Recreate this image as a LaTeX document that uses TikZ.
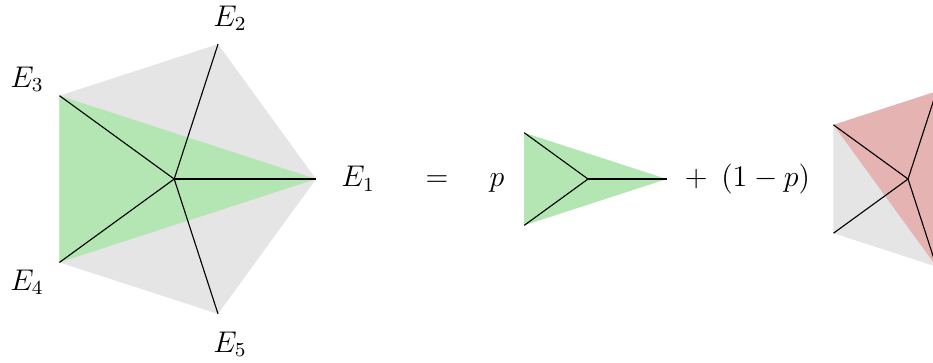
\documentclass[tikz,border=0pt]{standalone}
\definecolor{pgray}{RGB}{229,229,229}
\definecolor{pgreen}{RGB}{179,230,179}
\definecolor{pred}{RGB}{230,179,179}
\tikzset{
  lbl/.style={inner sep=0pt, anchor=base, font=\large},
  edge/.style={draw=black, line width=0.45pt}
}
\begin{document}
\begin{tikzpicture}
\useasboundingbox (-2.457,-2.581) rectangle (10.702,2.525);
\clip (-2.457,-2.581) rectangle (10.702,2.525);
% left pentagon
\begin{scope}
  \coordinate (A0) at (0,0);
  \foreach \i/\a in {1/0,2/72,3/144,4/216,5/288} \coordinate (A\i) at (\a:2);
  \fill[pgray] (A1)--(A2)--(A3)--(A4)--(A5)--cycle;
  \fill[pgreen] (A3)--(A4)--(A1)--cycle;
  \foreach \i in {1,...,5} \draw[edge] (A0)--(A\i);
\end{scope}
% middle triangle
\begin{scope}[shift={(5.836,0)}, scale=0.556]
  \coordinate (B0) at (0,0);
  \foreach \i/\a in {1/0,3/144,4/216} \coordinate (B\i) at (\a:2);
  \fill[pgreen] (B3)--(B4)--(B1)--cycle;
  \foreach \i in {1,3,4} \draw[edge] (B0)--(B\i);
\end{scope}
% right pentagon (cut off)
\begin{scope}[shift={(10.35,0)}, scale=0.65]
  \coordinate (C0) at (0,0);
  \foreach \i/\a in {1/0,2/72,3/144,4/216,5/288} \coordinate (C\i) at (\a:2);
  \fill[pgray] (C1)--(C2)--(C3)--(C4)--(C5)--cycle;
  \fill[pred] (C3)--(C2)--(C1)--(C5)--cycle;
  \foreach \i in {2,3,4,5} \draw[edge] (C0)--(C\i);
\end{scope}
% labels
\node[lbl] (e1) at (2.595,-0.106) {$E_1$};
\node[lbl] (e2) at (0.787,2.158) {$E_2$};
\node[lbl] (e3) at (-2.076,1.293) {$E_3$};
\node[lbl] (e4) at (-2.076,-1.566) {$E_4$};
\node[lbl] (e5) at (0.787,-2.444) {$E_5$};
\node[lbl] (eq) at (3.707,-0.106) {$=$};
\node[lbl] (pp) at (4.553,-0.106) {$p$};
\node[lbl] (qq) at (8.085,-0.106) {$+\hspace{5.5pt}(1-p)$};
\end{tikzpicture}
\end{document}
